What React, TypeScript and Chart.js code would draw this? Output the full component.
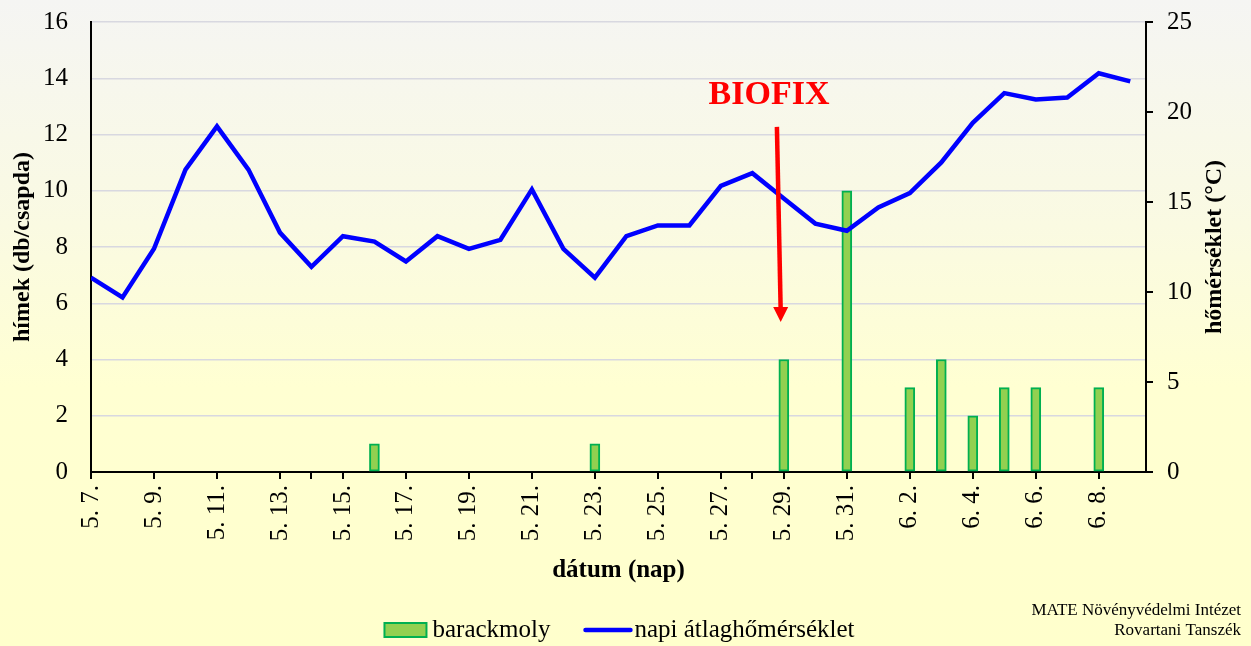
import React, { useEffect, useRef } from "react";
import { Chart, registerables } from "chart.js";

Chart.register(...registerables);

const dateLabels = [
  "5. 7.", "5. 8.", "5. 9.", "5. 10.", "5. 11.", "5. 12.", "5. 13.", "5. 14.", "5. 15.", "5. 16.",
  "5. 17.", "5. 18.", "5. 19.", "5. 20.", "5. 21.", "5. 22.", "5. 23.", "5. 24.", "5. 25.", "5. 26.",
  "5. 27.", "5. 28.", "5. 29.", "5. 30.", "5. 31.", "6. 1.", "6. 2.", "6. 3.", "6. 4.", "6. 5.",
  "6. 6.", "6. 7.", "6. 8.", "6. 9.",
];
const mothCounts = [
  0, 0, 0, 0, 0, 0, 0, 0, 0, 1,
  0, 0, 0, 0, 0, 0, 1, 0, 0, 0,
  0, 0, 4, 0, 10, 0, 3, 4, 2, 3,
  3, 0, 3, 0,
];
const dailyTemps = [
  10.8, 9.7, 12.4, 16.8, 19.2, 16.8, 13.3, 11.4, 13.1, 12.8,
  11.7, 13.1, 12.4, 12.9, 15.7, 12.4, 10.8, 13.1, 13.7, 13.7,
  15.9, 16.6, 15.2, 13.8, 13.4, 14.7, 15.5, 17.2, 19.4, 21.05,
  20.7, 20.8, 22.15, 21.7,
];
const majorTickStep = 2;
const minorTickIdx = [7, 21];
const leftTicks = { min: 0, max: 16, step: 2 };
const rightTicks = { min: 0, max: 25, step: 5 };

const seriesNames = ["barackmoly", "napi átlaghőmérséklet"];
const leftTitle = "hímek (db/csapda)";
const rightTitle = "hőmérséklet (°C)";
const xTitle = "dátum (nap)";
const biofixText = "BIOFIX";
const biofixIdx = 22;
const footerLines = ["MATE Növényvédelmi Intézet", "Rovartani Tanszék"];

const SERIF = "'Liberation Serif', 'Times New Roman', serif";
const BAR_FILL = "#92D050";
const BAR_EDGE = "#00B050";
const LINE_COL = "#0000FF";

const isShownTick = (v: number) => v % majorTickStep === 0 || minorTickIdx.includes(v);

const overlayPlugin = {
  id: "overlay",
  afterDraw(chart: any) {
    const ctx = chart.ctx as CanvasRenderingContext2D;
    const xs = chart.scales.x;
    const ys = chart.scales.y;
    const area = chart.chartArea;
    ctx.save();

    // BIOFIX text and arrow
    ctx.fillStyle = "#FF0000";
    ctx.strokeStyle = "#FF0000";
    ctx.font = `bold 34px ${SERIF}`;
    ctx.textAlign = "center";
    ctx.textBaseline = "middle";
    ctx.fillText(biofixText, xs.getPixelForValue(biofixIdx - 0.47), ys.getPixelForValue(13.4));
    const ax0 = xs.getPixelForValue(biofixIdx - 0.22);
    const ay0 = ys.getPixelForValue(12.27);
    const ax1 = xs.getPixelForValue(biofixIdx - 0.1);
    const ay1 = ys.getPixelForValue(5.33);
    ctx.lineWidth = 4.5;
    ctx.beginPath();
    ctx.moveTo(ax0, ay0);
    ctx.lineTo(ax1, ay1 - 12);
    ctx.stroke();
    ctx.beginPath();
    ctx.moveTo(ax1 - 7.5, ay1 - 15);
    ctx.lineTo(ax1 + 7.5, ay1 - 15);
    ctx.lineTo(ax1, ay1);
    ctx.closePath();
    ctx.fill();

    // right axis title (reads bottom to top)
    ctx.fillStyle = "#000";
    ctx.font = `bold 24px ${SERIF}`;
    ctx.save();
    ctx.translate(1215, (area.top + area.bottom) / 2);
    ctx.rotate(-Math.PI / 2);
    ctx.textAlign = "center";
    ctx.textBaseline = "middle";
    ctx.fillText(rightTitle, 0, 0);
    ctx.restore();

    // legend
    ctx.font = `25px ${SERIF}`;
    ctx.textBaseline = "middle";
    ctx.textAlign = "left";
    const boxW = 42, lineW = 45, gap1 = 6, gap2 = 4, between = 35;
    const t1 = ctx.measureText(seriesNames[0]).width;
    const t2 = ctx.measureText(seriesNames[1]).width;
    const total = boxW + gap1 + t1 + between + lineW + gap2 + t2;
    const cx = (area.left + area.right) / 2 + 1;
    let lx = cx - total / 2;
    const ly = 630;
    ctx.fillStyle = BAR_FILL;
    ctx.strokeStyle = BAR_EDGE;
    ctx.lineWidth = 2;
    ctx.fillRect(lx, ly - 7, boxW, 14);
    ctx.strokeRect(lx, ly - 7, boxW, 14);
    lx += boxW + gap1;
    ctx.fillStyle = "#000";
    ctx.fillText(seriesNames[0], lx, ly);
    lx += t1 + between;
    ctx.strokeStyle = LINE_COL;
    ctx.lineWidth = 4.5;
    ctx.lineCap = "round";
    ctx.beginPath();
    ctx.moveTo(lx, ly);
    ctx.lineTo(lx + lineW, ly);
    ctx.stroke();
    lx += lineW + gap2;
    ctx.fillText(seriesNames[1], lx, ly);

    // footer
    ctx.font = `17px ${SERIF}`;
    ctx.textAlign = "right";
    ctx.textBaseline = "alphabetic";
    ctx.fillText(footerLines[0], 1241, 615);
    ctx.fillText(footerLines[1], 1241, 635);

    ctx.restore();
  },
};

export default function App() {
  const canvasRef = useRef<HTMLCanvasElement | null>(null);

  useEffect(() => {
    if (!canvasRef.current) return;
    const barData = mothCounts.map((v, i) => ({ x: i, y: v }));
    const lineData = dailyTemps.map((v, i) => ({ x: i, y: v }));

    const chart = new Chart(canvasRef.current, {
      type: "bar",
      data: {
        datasets: [
          {
            type: "line",
            label: seriesNames[1],
            data: lineData,
            yAxisID: "y1",
            borderColor: LINE_COL,
            backgroundColor: LINE_COL,
            borderWidth: 4.5,
            pointRadius: 0,
            tension: 0,
            order: 0,
          } as any,
          {
            type: "bar",
            label: seriesNames[0],
            data: barData,
            yAxisID: "y",
            backgroundColor: BAR_FILL,
            borderColor: BAR_EDGE,
            borderWidth: 2,
            borderSkipped: false,
            barThickness: 10,
            order: 1,
          } as any,
        ],
      },
      options: {
        animation: false,
        responsive: false,
        maintainAspectRatio: false,
        layout: { padding: { top: 22, bottom: 56, left: 0, right: 0 } },
        plugins: { legend: { display: false }, tooltip: { enabled: false } },
        scales: {
          x: {
            type: "linear",
            position: "bottom",
            min: 0,
            max: dateLabels.length - 0.5,
            offset: false,
            afterFit: (scale: any) => { scale.height = 118; },
            ticks: {
              stepSize: 1,
              maxTicksLimit: 100,
              autoSkip: false,
              minRotation: 90,
              maxRotation: 90,
              padding: 6,
              color: "#000",
              font: { family: SERIF, size: 25 },
              callback: (v: any) => {
                const n = Number(v);
                return Number.isInteger(n) && n % majorTickStep === 0 ? dateLabels[n] : "";
              },
            },
            grid: {
              offset: false,
              drawOnChartArea: false,
              drawTicks: true,
              tickLength: 7,
              color: "#000",
              tickColor: (c: any) =>
                c.tick && isShownTick(Number(c.tick.value)) ? "#000" : "rgba(0,0,0,0)",
              lineWidth: 2,
            },
            border: { display: true, color: "#000", width: 2 },
            title: {
              display: true,
              text: xTitle,
              color: "#000",
              font: { family: SERIF, size: 25, weight: "bold" },
              padding: { top: 0, bottom: 4 },
            },
          },
          y: {
            type: "linear",
            position: "left",
            min: leftTicks.min,
            max: leftTicks.max,
            afterFit: (scale: any) => {
              scale.width = 91;
              scale.paddingTop = 0;
              scale.paddingBottom = 0;
            },
            ticks: {
              stepSize: leftTicks.step,
              padding: 23,
              color: "#000",
              font: { family: SERIF, size: 25 },
            },
            grid: { color: "#d8d8e0", lineWidth: 1.5, drawTicks: false },
            border: { display: true, color: "#000", width: 2 },
            title: {
              display: true,
              text: leftTitle,
              color: "#000",
              font: { family: SERIF, size: 24, weight: "bold" },
              padding: { top: 8, bottom: 0 },
            },
          },
          y1: {
            type: "linear",
            position: "right",
            min: rightTicks.min,
            max: rightTicks.max,
            afterFit: (scale: any) => {
              scale.width = 105;
              scale.paddingTop = 0;
              scale.paddingBottom = 0;
            },
            ticks: {
              stepSize: rightTicks.step,
              padding: 14,
              color: "#000",
              font: { family: SERIF, size: 25 },
            },
            grid: {
              drawOnChartArea: false,
              drawTicks: true,
              tickLength: 7,
              color: "#000",
              lineWidth: 2,
            },
            border: { display: true, color: "#000", width: 2 },
          },
        },
      } as any,
      plugins: [overlayPlugin],
    });
    return () => chart.destroy();
  }, []);

  return (
    <div
      style={{
        position: "fixed",
        left: 0,
        top: 0,
        width: 1251,
        height: 646,
        background:
          "linear-gradient(180deg, #f5f5f3 0%, #fafae2 35%, #ffffd2 60%, #ffffcc 100%)",
      }}
    >
      <canvas ref={canvasRef} width={1251} height={646} style={{ display: "block" }} />
    </div>
  );
}
